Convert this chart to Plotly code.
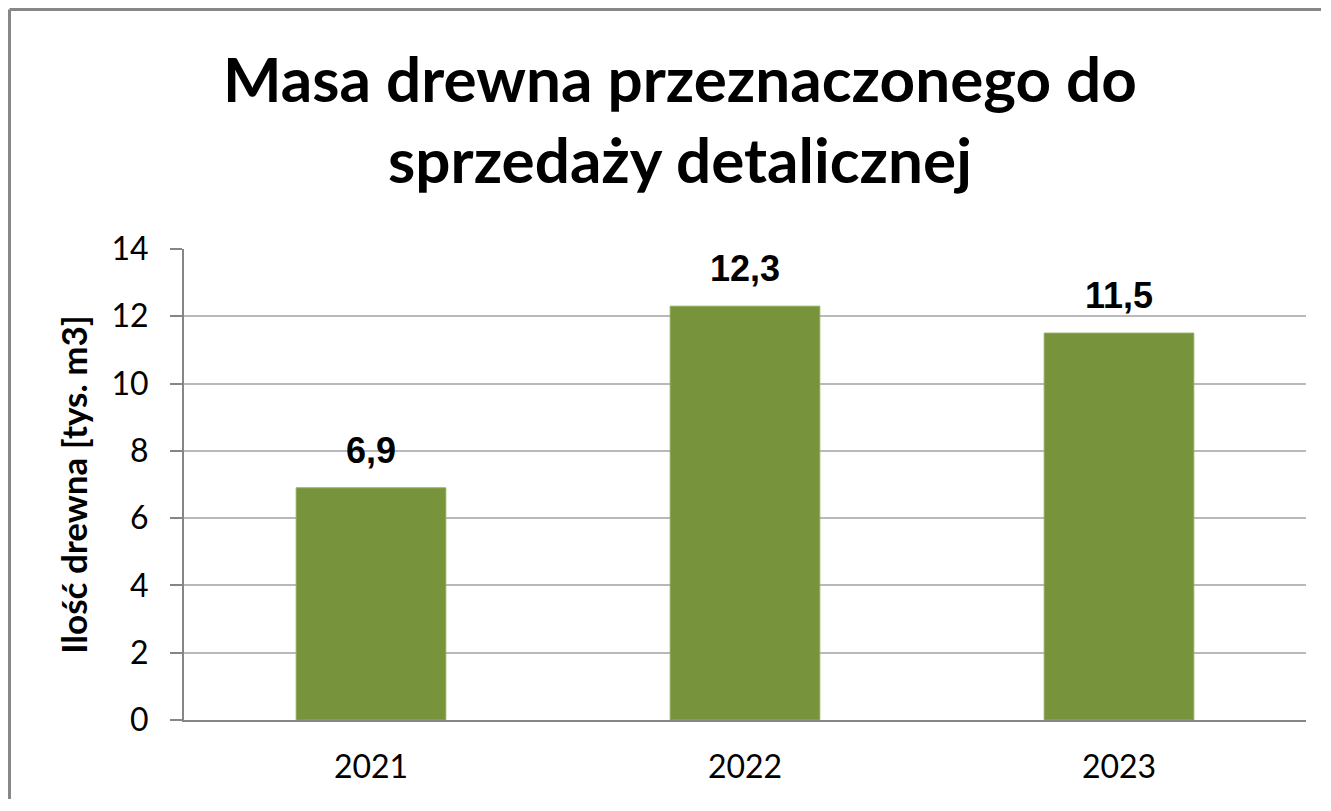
import plotly.graph_objects as go

years = ["2021", "2022", "2023"]
values = [6.9, 12.3, 11.5]
labels = ["6,9", "12,3", "11,5"]
y_ticks = [0, 2, 4, 6, 8, 10, 12, 14]

# page body has an 8px margin; figure is sized to fit inside the window
W, H = 1313, 791
L, R, T, B = 176, 15, 241, 79
pw, ph = W - L - R, H - T - B

fig = go.Figure()
fig.add_trace(go.Bar(
    x=years, y=values,
    marker=dict(color="#77933C", line=dict(color="#8FAA58", width=1)),
    width=0.4,
    hoverinfo="skip",
))

for i, (yv, lab) in enumerate(zip(values, labels)):
    fig.add_annotation(
        x=i, y=yv, xref="x", yref="y", text=lab, showarrow=False,
        yanchor="bottom", yshift=15,
        font=dict(family="Liberation Sans, Arial", size=36, color="#000000", weight="bold"),
    )

# frame (left and top edges of chart border)
fx = (1.5 - L) / pw
fy = 1 + (T - 1.5) / ph
fig.add_shape(type="line", xref="paper", yref="paper", x0=fx, x1=fx, y0=-1, y1=fy,
              line=dict(color="#878787", width=3), layer="above")
fig.add_shape(type="line", xref="paper", yref="paper", x0=fx, x1=1.5, y0=fy, y1=fy,
              line=dict(color="#878787", width=3), layer="above")

fig.update_layout(
    width=W, height=H,
    margin=dict(l=L, r=R, t=T, b=B, pad=0),
    paper_bgcolor="white", plot_bgcolor="white",
    showlegend=False,
    title=dict(
        text="Masa drewna przeznaczonego do<br>sprzedaży detalicznej",
        x=672 / W, xanchor="center", xref="container",
        y=1 - 94 / H, yanchor="top", yref="container",
        font=dict(family="Lato", size=62, color="#000000", weight="bold"),
    ),
    font=dict(family="Lato", color="#000000"),
)

fig.update_xaxes(
    type="category", range=[-0.5, 2.5],
    showline=True, linecolor="#868686", linewidth=2,
    ticks="", showgrid=False,
    tickfont=dict(family="Lato", size=32, color="#000000"),
    ticklabelstandoff=18,
)
fig.update_yaxes(
    range=[0, 14], tickvals=y_ticks, ticktext=[str(v) for v in y_ticks],
    showline=True, linecolor="#868686", linewidth=2,
    ticks="outside", ticklen=12, tickcolor="#868686", tickwidth=2,
    showgrid=True, gridcolor="#B9B9B9", gridwidth=2,
    zeroline=False,
    tickfont=dict(family="Lato", size=32, color="#000000"),
    ticklabelstandoff=15,
    title=dict(text="Ilość drewna [tys. m3]", standoff=13,
               font=dict(family="Lato", size=35, color="#000000", weight="bold")),
)

fig.write_html("out.html")
